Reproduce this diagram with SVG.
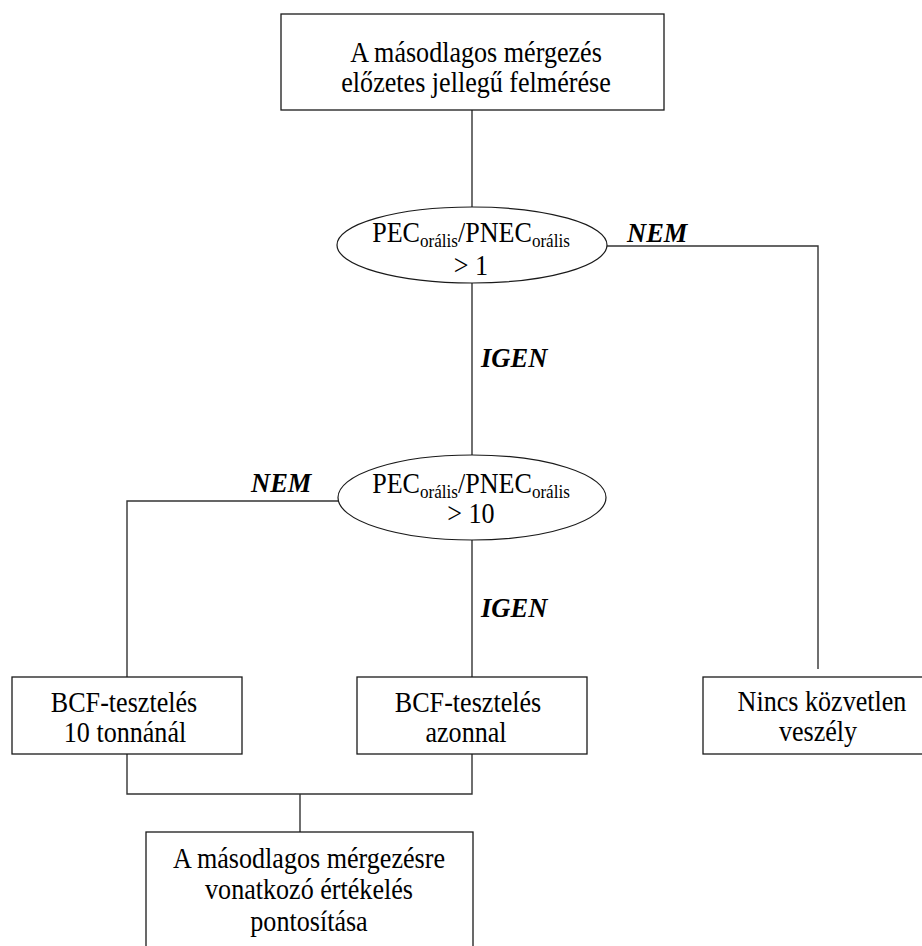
<svg xmlns="http://www.w3.org/2000/svg" width="922" height="946" viewBox="0 0 922 946">
  <style>
    .box { fill: #ffffff; stroke: #1a1a1a; stroke-width: 1.3; }
    .dec { fill: #ffffff; stroke: #1a1a1a; stroke-width: 1.2; }
    .wire { fill: none; stroke: #333333; stroke-width: 1.4; }
    .t { font-family: "Liberation Serif", "Times New Roman", serif; font-size: 29px; fill: #000; text-anchor: middle; }
    .sub { font-size: 19px; }
    .lbl { font-family: "Liberation Serif", "Times New Roman", serif; font-size: 26.5px; font-weight: bold; font-style: italic; fill: #000; }
  </style>

  <rect width="922" height="946" fill="#ffffff"/>

  <!-- connectors -->
  <g id="connectors">
    <line class="wire" x1="472" y1="110" x2="472" y2="207"/>
    <line class="wire" x1="472" y1="283" x2="472" y2="455"/>
    <polyline class="wire" points="607,246 818,246 818,669"/>
    <polyline class="wire" points="338,501 127,501 127,677"/>
    <line class="wire" x1="472" y1="540" x2="472" y2="677"/>
    <polyline class="wire" points="127,754 127,794 472,794 472,754"/>
    <line class="wire" x1="300" y1="794" x2="300" y2="832"/>
    <text class="lbl" x="627" y="242">NEM</text>
    <text class="lbl" x="481" y="367">IGEN</text>
    <text class="lbl" x="251" y="492">NEM</text>
    <text class="lbl" x="481" y="617">IGEN</text>
  </g>

  <!-- start: preliminary assessment -->
  <g id="node-start">
    <rect class="box" x="281" y="14" width="383" height="96"/>
    <text class="t" transform="translate(476 62) scale(0.9 1)">A másodlagos mérgezés</text>
    <text class="t" transform="translate(476 92) scale(0.9 1)">előzetes jellegű felmérése</text>
  </g>

  <!-- decision: ratio > 1 -->
  <g id="node-ratio1">
    <ellipse class="dec" cx="472" cy="245" rx="135" ry="38"/>
    <text class="t" transform="translate(471 242) scale(0.9 1)">PEC<tspan class="sub" dy="5">orális</tspan><tspan dy="-5">/PNEC</tspan><tspan class="sub" dy="5">orális</tspan></text>
    <text class="t" transform="translate(471 275) scale(0.9 1)">&gt; 1</text>
  </g>

  <!-- decision: ratio > 10 -->
  <g id="node-ratio10">
    <ellipse class="dec" cx="472" cy="497.5" rx="134" ry="42.5"/>
    <text class="t" transform="translate(471 493) scale(0.9 1)">PEC<tspan class="sub" dy="5">orális</tspan><tspan dy="-5">/PNEC</tspan><tspan class="sub" dy="5">orális</tspan></text>
    <text class="t" transform="translate(471 523) scale(0.9 1)">&gt; 10</text>
  </g>

  <!-- BCF test at 10 t -->
  <g id="node-bcf10">
    <rect class="box" x="12" y="677" width="230" height="77"/>
    <text class="t" transform="translate(124 712) scale(0.9 1)">BCF-tesztelés</text>
    <text class="t" transform="translate(125 742) scale(0.9 1)">10 tonnánál</text>
  </g>

  <!-- BCF test immediately -->
  <g id="node-bcfnow">
    <rect class="box" x="357" y="677" width="230" height="77"/>
    <text class="t" transform="translate(468 712) scale(0.9 1)">BCF-tesztelés</text>
    <text class="t" transform="translate(466 742) scale(0.9 1)">azonnal</text>
  </g>

  <!-- no immediate hazard -->
  <g id="node-nohazard">
    <rect class="box" x="703" y="677" width="232" height="77"/>
    <text class="t" transform="translate(822 711) scale(0.9 1)">Nincs közvetlen</text>
    <text class="t" transform="translate(818 741) scale(0.9 1)">veszély</text>
  </g>

  <!-- refinement of the assessment -->
  <g id="node-refine">
    <rect class="box" x="146" y="832" width="327" height="130"/>
    <text class="t" transform="translate(309 868) scale(0.9 1)">A másodlagos mérgezésre</text>
    <text class="t" transform="translate(309 899) scale(0.9 1)">vonatkozó értékelés</text>
    <text class="t" transform="translate(309 931) scale(0.9 1)">pontosítása</text>
  </g>
</svg>
